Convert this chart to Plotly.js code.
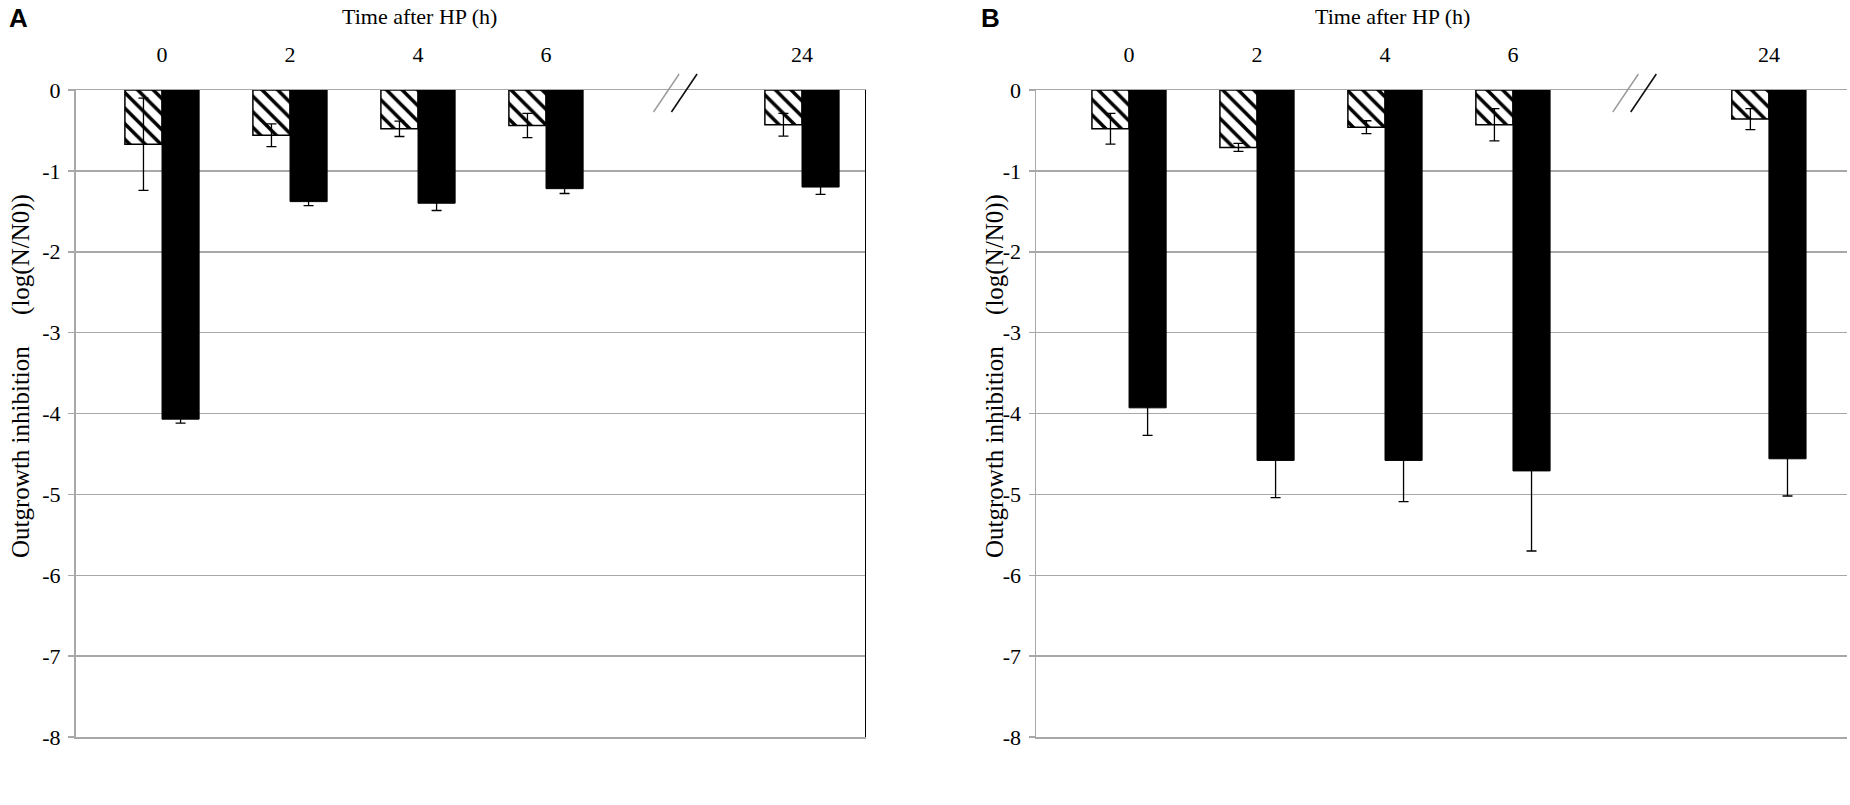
<!DOCTYPE html>
<html><head><meta charset="utf-8">
<script src="https://cdn.plot.ly/plotly-3.0.1.min.js"></script>
<style>html,body{margin:0;padding:0;background:#fff}</style>
</head><body>
<div id="chart" style="width:1850px;height:805px"></div>
<script>
// ---- data ----
const timeLabels = ['0', '2', '4', '6', '24'];
const axisCategories = ['0', '2', '4', '6', ' ', '24'];
const yTickVals = [0, -1, -2, -3, -4, -5, -6, -7, -8];
const yTickText = ['0', '-1', '-2', '-3', '-4', '-5', '-6', '-7', '-8'];

const A_hatched = [-0.67, -0.56, -0.48, -0.44, -0.43];
const A_hatchedErr = [0.57, 0.14, 0.095, 0.15, 0.14];
const A_black = [-4.07, -1.38, -1.40, -1.22, -1.20];
const A_blackErr = [0.05, 0.05, 0.09, 0.06, 0.09];

const B_hatched = [-0.48, -0.71, -0.46, -0.43, -0.36];
const B_hatchedErr = [0.19, 0.05, 0.08, 0.20, 0.13];
const B_black = [-3.93, -4.58, -4.58, -4.71, -4.56];
const B_blackErr = [0.34, 0.46, 0.51, 0.99, 0.46];

const xTitle = 'Time after HP (h)';
const yTitle = 'Outgrowth inhibition' + '\u00A0'.repeat(5) + '(log(N/N0))';

// ---- styles ----
const W = 1850, H = 805;
const serif = 'Liberation Serif, Times New Roman, serif';
const gridGray = '#a8a8a8';
const fs = 22;

function hatchedTrace(y, err, xa, ya) {
  return {
    type: 'bar', x: timeLabels, y: y, xaxis: xa, yaxis: ya,
    marker: {color: '#ffffff', line: {color: '#000', width: 1.5},
             pattern: {shape: '\\', fgcolor: '#000', bgcolor: '#fff', size: 11, solidity: 0.32}},
    error_y: {type: 'data', array: err, visible: true, color: '#000', thickness: 1.3, width: 5},
    showlegend: false, hoverinfo: 'skip'
  };
}
function blackTrace(y, err, xa, ya) {
  return {
    type: 'bar', x: timeLabels, y: y, xaxis: xa, yaxis: ya,
    marker: {color: '#000', line: {color: '#000', width: 1}},
    error_y: {type: 'data', array: err, visible: true, color: '#000', thickness: 1.3, width: 5},
    showlegend: false, hoverinfo: 'skip'
  };
}

const data = [
  hatchedTrace(A_hatched, A_hatchedErr, 'x', 'y'),
  blackTrace(A_black, A_blackErr, 'x', 'y'),
  hatchedTrace(B_hatched, B_hatchedErr, 'x2', 'y2'),
  blackTrace(B_black, B_blackErr, 'x2', 'y2')
];

const yDom = [1 - 737 / H, 1 - 90 / H];
function xAxis(domain, anchor, range) {
  return {
    domain: domain, anchor: anchor, type: 'category',
    categoryarray: axisCategories, categoryorder: 'array',
    range: range, side: 'top', showgrid: false, zeroline: false,
    showline: true, linecolor: gridGray, linewidth: 1.5, mirror: true,
    ticks: '', ticklabelstandoff: 18,
    tickfont: {family: serif, size: fs, color: '#000'}, fixedrange: true
  };
}
function yAxis(anchor) {
  return {
    domain: yDom, anchor: anchor, range: [-8, 0],
    tickmode: 'array', tickvals: yTickVals, ticktext: yTickText,
    showgrid: true, gridcolor: gridGray, gridwidth: 1.5, zeroline: false,
    showline: true, linecolor: gridGray, linewidth: 1.5,
    ticks: 'outside', ticklen: 6, tickcolor: gridGray, tickwidth: 1.5,
    ticklabelstandoff: 3,
    tickfont: {family: serif, size: fs, color: '#000'}, fixedrange: true
  };
}

const breakA = 4.01, breakB = 3.95;
const brkTop = 1 - 74 / H, brkBot = 1 - 112 / H;
function breakShapes(xref, c) {
  return [
    {type: 'line', xref: xref, yref: 'paper', x0: c - 0.17, x1: c + 0.03, y0: brkBot, y1: brkTop,
     line: {color: '#9a9a9a', width: 1.4}},
    {type: 'line', xref: xref, yref: 'paper', x0: c - 0.03, x1: c + 0.17, y0: brkBot, y1: brkTop,
     line: {color: '#111', width: 1.6}}
  ];
}

const ann = (text, x, y, extra) => Object.assign({
  text: text, xref: 'paper', yref: 'paper', x: x / W, y: 1 - y / H,
  xanchor: 'center', yanchor: 'middle', showarrow: false,
  font: {family: serif, size: fs, color: '#000'}
}, extra || {});
const boldFont = {family: 'Liberation Sans, Arial, sans-serif', size: 26, color: '#000'};
const yTitleFont = {family: serif, size: 25, color: '#000'};

const layout = {
  width: W, height: H, margin: {l: 0, r: 0, t: 0, b: 0},
  paper_bgcolor: '#fff', plot_bgcolor: '#fff',
  barmode: 'group', bargap: 0.42, bargroupgap: 0,
  xaxis: xAxis([75.5 / W, 866 / W], 'y', [-0.676, 5.5]),
  yaxis: yAxis('x'),
  xaxis2: xAxis([1036 / W, 1847 / W], 'y2', [-0.727, 5.61]),
  yaxis2: yAxis('x2'),
  shapes: [
    ...breakShapes('x', breakA),
    ...breakShapes('x2', breakB),
    {type: 'line', xref: 'x', yref: 'y', x0: 5.5, x1: 5.5, y0: 0, y1: -8,
     line: {color: '#000', width: 2}}
  ],
  annotations: [
    ann('<b>A</b>', 18, 18, {font: boldFont}),
    ann('<b>B</b>', 991, 18, {font: boldFont}),
    ann(xTitle, 419, 17),
    ann(xTitle, 1392, 17),
    ann(yTitle, 21, 376, {textangle: -90, font: yTitleFont}),
    ann(yTitle, 995, 376, {textangle: -90, font: yTitleFont})
  ]
};

Plotly.newPlot('chart', data, layout, {displayModeBar: false, staticPlot: true});
</script>
</body></html>
